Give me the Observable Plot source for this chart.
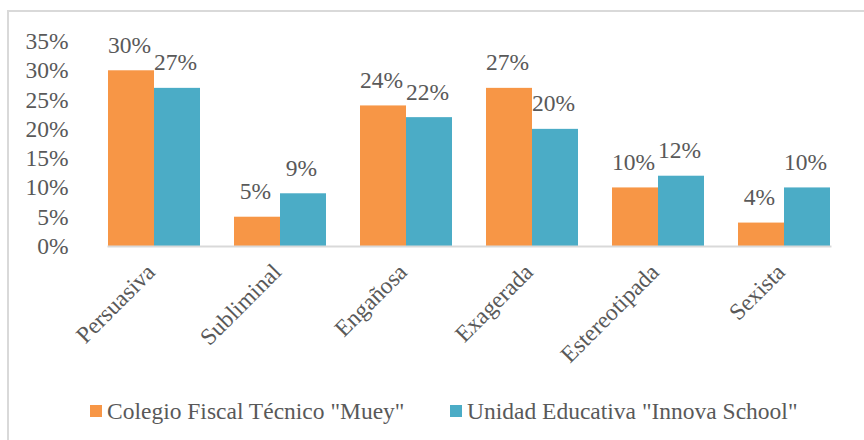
<!DOCTYPE html>
<html>
<head>
<meta charset="utf-8">
<script src="https://cdn.jsdelivr.net/npm/d3@7"></script>
<script src="https://cdn.jsdelivr.net/npm/@observablehq/plot@0.6"></script>
<style>
  html, body { margin: 0; padding: 0; background: #fff; }
  #wrap { position: relative; width: 864px; height: 440px; overflow: hidden; font-family: 'Liberation Serif', serif; color: #595959; }
  #border { position: absolute; left: 7px; top: 10px; width: 1000px; height: 1000px; border: 2px solid #d9d9d9; box-sizing: border-box; }
  #chart { position: absolute; left: 0; top: 0; }
  #chart svg, #chart svg text { font-family: 'Liberation Serif', serif !important; }
  #legend { position: absolute; left: 0; top: 396px; width: 864px; height: 30px; font-size: 23.5px; font-family: 'Liberation Serif', serif; }
  .item { position: absolute; top: 0; display: flex; align-items: center; height: 30px; white-space: nowrap; }
  .sw { width: 12px; height: 12px; margin-right: 5px; }
</style>
</head>
<body>
<div id="wrap">
  <div id="border"></div>
  <div id="chart"></div>
  <div id="legend"></div>
</div>
<script>
const categories = ["Persuasiva", "Subliminal", "Engañosa", "Exagerada", "Estereotipada", "Sexista"];
const seriesNames = ["Colegio Fiscal Técnico \"Muey\"", "Unidad Educativa \"Innova School\""];
const mueyValues = [30, 5, 24, 27, 10, 4];
const innovaValues = [27, 9, 22, 20, 12, 10];
const yTicks = [0, 5, 10, 15, 20, 25, 30, 35];
const colors = ["#F79646", "#4BACC6"];

const data = [];
categories.forEach((c, i) => {
  data.push({category: c, series: seriesNames[0], value: mueyValues[i]});
  data.push({category: c, series: seriesNames[1], value: innovaValues[i]});
});

const chart = Plot.plot({
  width: 864,
  height: 390,
  marginLeft: 90,
  marginRight: 17,
  marginTop: 41,
  marginBottom: 144,
  style: {fontFamily: "'Liberation Serif', serif", fontSize: "23.5px", color: "#595959", background: "transparent", overflow: "visible"},
  fx: {domain: categories, paddingInner: 0.27, paddingOuter: 0.135, axis: null, label: null},
  x: {domain: seriesNames, padding: 0, axis: null},
  y: {domain: [0, 35], axis: null, label: null},
  color: {domain: seriesNames, range: colors},
  marks: [
    Plot.axisY({ticks: yTicks, tickFormat: d => d + "%", tickSize: 0, tickPadding: 40, label: null, fill: "#595959"}),
    Plot.barY(data, {fx: "category", x: "series", y: "value", fill: "series"}),
    Plot.frame({anchor: "bottom", stroke: "#d9d9d9", strokeWidth: 2, facet: "super"}),
    Plot.text(data, {fx: "category", x: "series", y: "value", text: d => d.value + "%", lineAnchor: "bottom", dy: -18, dx: -2, fill: "#595959"}),
    Plot.text(categories, {fx: d => d, text: d => d, frameAnchor: "bottom", rotate: -45, textAnchor: "end", dy: 27, dx: 2, fill: "#595959"})
  ]
});
document.getElementById("chart").appendChild(chart);

const legend = document.getElementById("legend");
const legendLeft = [90, 450];
seriesNames.forEach((s, i) => {
  const item = document.createElement("div");
  item.className = "item";
  item.style.left = legendLeft[i] + "px";
  const sw = document.createElement("span");
  sw.className = "sw";
  sw.style.background = colors[i];
  const t = document.createElement("span");
  t.textContent = s;
  item.appendChild(sw);
  item.appendChild(t);
  legend.appendChild(item);
});
</script>
</body>
</html>
